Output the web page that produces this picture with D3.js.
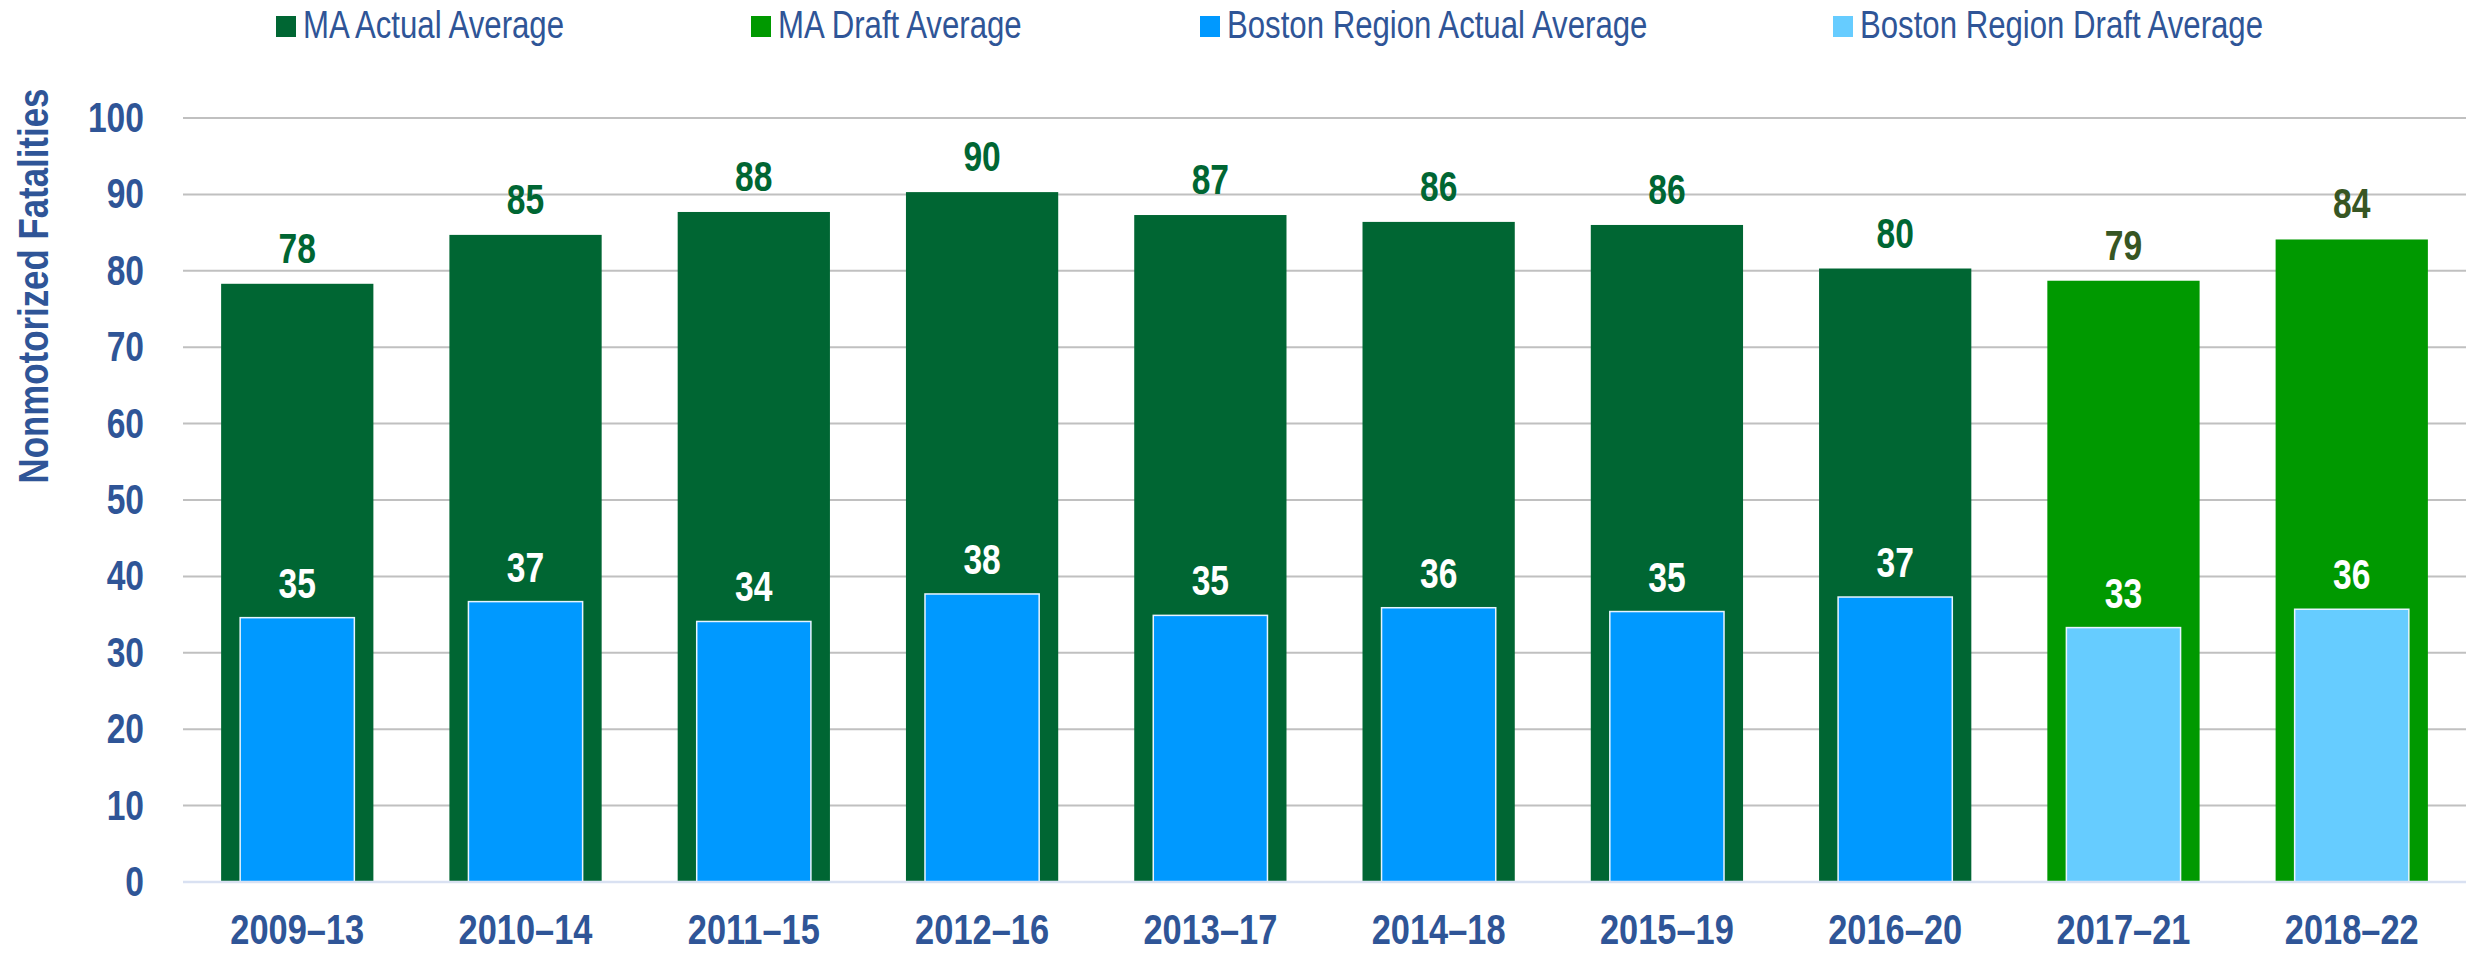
<!DOCTYPE html>
<html lang="en">
<head>
	<meta charset="UTF-8">
	<title>Nonmotorized Fatalities</title>
	<script src="https://d3js.org/d3.v7.min.js" charset="utf-8"></script>
	<style>
		body { margin: 0; background: #fff; }
		text { font-family: "Liberation Sans Narrow", "Arial Narrow", "Liberation Sans", sans-serif; }
	</style>
</head>
<body>
	<svg></svg>
	<script>
		// data
		const periods = ['2009–13', '2010–14', '2011–15', '2012–16', '2013–17', '2014–18', '2015–19', '2016–20', '2017–21', '2018–22']
		const maValues = [78.3, 84.7, 87.7, 90.3, 87.3, 86.4, 86.0, 80.3, 78.7, 84.1]
		const bostonValues = [34.6, 36.7, 34.1, 37.7, 34.9, 35.9, 35.4, 37.3, 33.3, 35.7]
		const isDraft = [false, false, false, false, false, false, false, false, true, true]
		const yTicks = [0, 10, 20, 30, 40, 50, 60, 70, 80, 90, 100]
		const legendLabels = ['MA Actual Average', 'MA Draft Average', 'Boston Region Actual Average', 'Boston Region Draft Average']

		const colors = {
			maActual: '#006633',
			maDraft: '#009900',
			bosActual: '#0099FF',
			bosDraft: '#66CCFF',
			axisText: '#2F5597'
		}
		const legendColors = [colors.maActual, colors.maDraft, colors.bosActual, colors.bosDraft]

		const W = 2466, H = 953
		const margin = { left: 183, right: 0, top: 118, bottom: 71 }

		// no narrow font installed, so squeeze the glyphs to look like Arial Narrow
		function condense(sel, k) {
			sel.each(function() {
				const len = this.getComputedTextLength()
				d3.select(this)
					.attr('textLength', len * k)
					.attr('lengthAdjust', 'spacingAndGlyphs')
			})
		}

		const svg = d3.select('svg')
			.attr('width', W)
			.attr('height', H)

		const x = d3.scaleBand()
			.domain(periods)
			.range([margin.left, W - margin.right])
			.paddingInner(0.333)
			.paddingOuter(0.167)

		const y = d3.scaleLinear()
			.domain([0, 100])
			.range([H - margin.bottom, margin.top])

		// gridlines
		svg.append('g')
			.selectAll('line')
			.data(yTicks.filter(d => d > 0))
			.join('line')
			.attr('x1', margin.left)
			.attr('x2', W - margin.right)
			.attr('y1', d => y(d))
			.attr('y2', d => y(d))
			.attr('stroke', '#c0c0c0')
			.attr('stroke-width', 2)

		// y axis labels
		const yAxis = svg.append('g')
			.attr('transform', `translate(${margin.left}, 0)`)
			.call(d3.axisLeft(y).tickValues(yTicks).tickSize(0).tickPadding(39))
		yAxis.select('.domain').remove()
		yAxis.attr('font-family', null)
		yAxis.selectAll('text')
			.attr('fill', colors.axisText)
			.style('font-size', '42px')
			.style('font-weight', 'bold')
			.call(condense, 0.8)

		// outer MA bars
		svg.append('g')
			.selectAll('rect')
			.data(periods)
			.join('rect')
			.attr('x', d => x(d))
			.attr('width', x.bandwidth())
			.attr('y', (d, i) => y(maValues[i]))
			.attr('height', (d, i) => y(0) - y(maValues[i]))
			.attr('fill', (d, i) => isDraft[i] ? colors.maDraft : colors.maActual)

		// inner Boston bars
		const innerW = x.bandwidth() * 0.75
		svg.append('g')
			.selectAll('rect')
			.data(periods)
			.join('rect')
			.attr('x', d => x(d) + (x.bandwidth() - innerW) / 2)
			.attr('width', innerW)
			.attr('y', (d, i) => y(bostonValues[i]))
			.attr('height', (d, i) => y(0) - y(bostonValues[i]))
			.attr('fill', (d, i) => isDraft[i] ? colors.bosDraft : colors.bosActual)
			.attr('stroke', '#e8f4ff')
			.attr('stroke-width', 1.5)

		// x axis baseline
		svg.append('line')
			.attr('x1', margin.left)
			.attr('x2', W - margin.right)
			.attr('y1', y(0))
			.attr('y2', y(0))
			.attr('stroke', '#d9e1f2')
			.attr('stroke-width', 2.5)

		// x labels
		svg.append('g')
			.selectAll('text')
			.data(periods)
			.join('text')
			.attr('x', d => x(d) + x.bandwidth() / 2)
			.attr('y', 944)
			.attr('text-anchor', 'middle')
			.attr('fill', colors.axisText)
			.style('font-size', '43px')
			.style('font-weight', 'bold')
			.text(d => d)
			.call(condense, 0.8)

		// value labels
		svg.append('g')
			.selectAll('text')
			.data(periods)
			.join('text')
			.attr('x', d => x(d) + x.bandwidth() / 2)
			.attr('y', (d, i) => y(maValues[i]) - 21)
			.attr('text-anchor', 'middle')
			.attr('fill', (d, i) => isDraft[i] ? '#375623' : colors.maActual)
			.style('font-size', '42px')
			.style('font-weight', 'bold')
			.text((d, i) => Math.round(maValues[i]))
			.call(condense, 0.8)

		svg.append('g')
			.selectAll('text')
			.data(periods)
			.join('text')
			.attr('x', d => x(d) + x.bandwidth() / 2)
			.attr('y', (d, i) => y(bostonValues[i]) - 20)
			.attr('text-anchor', 'middle')
			.attr('fill', '#ffffff')
			.style('font-size', '42px')
			.style('font-weight', 'bold')
			.text((d, i) => Math.round(bostonValues[i]))
			.call(condense, 0.8)

		// y title
		svg.append('text')
			.attr('transform', 'translate(48, 286) rotate(-90)')
			.attr('text-anchor', 'middle')
			.attr('fill', colors.axisText)
			.style('font-size', '43px')
			.style('font-weight', 'bold')
			.text('Nonmotorized Fatalities')
			.call(condense, 0.81)

		// legend
		const legendX = [276, 751, 1200, 1833]
		const legend = svg.append('g')
			.selectAll('g')
			.data(legendLabels)
			.join('g')
			.attr('transform', (d, i) => `translate(${legendX[i]}, 0)`)
		legend.append('rect')
			.attr('x', 0)
			.attr('y', 16)
			.attr('width', 20)
			.attr('height', 21)
			.attr('fill', (d, i) => legendColors[i])
		legend.append('text')
			.attr('x', 27)
			.attr('y', 38)
			.attr('fill', colors.axisText)
			.style('font-size', '38px')
			.text(d => d)
			.call(condense, 0.82)
	</script>
</body>
</html>
